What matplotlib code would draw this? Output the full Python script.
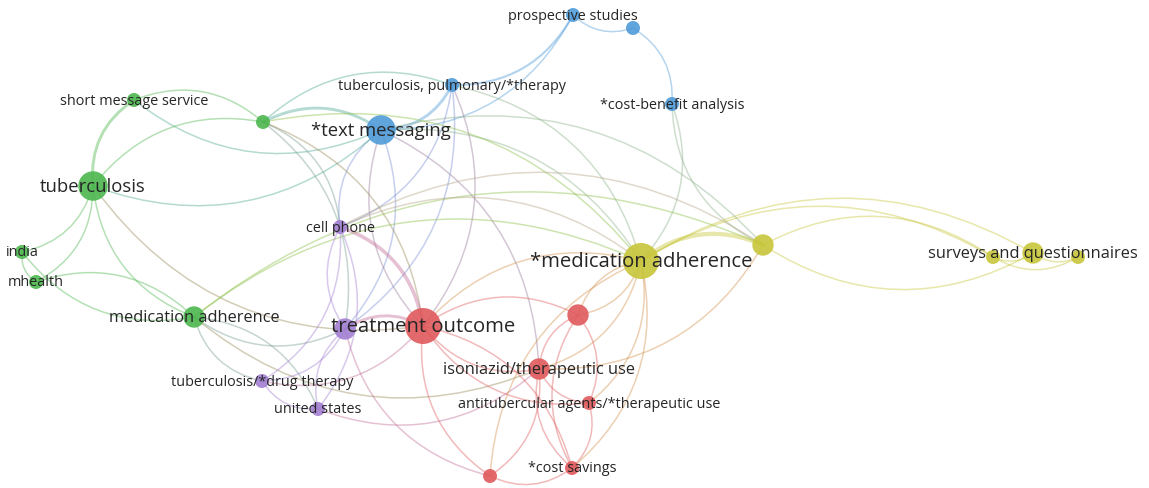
import numpy as np
import matplotlib
matplotlib.use("Agg")
import matplotlib.pyplot as plt
from matplotlib.path import Path
from matplotlib.patches import PathPatch, Circle
from matplotlib.colors import to_rgb

plt.rcParams['font.family'] = ['Open Sans', 'DejaVu Sans']

# terms of the co-occurrence map (VOSviewer-like layout coordinates)
ids = ["B1", "B2", "B3", "B4", "B5",
       "G1", "G2", "G3", "G4", "G5", "G6",
       "P1", "P2", "P3", "P4",
       "R1", "R2", "R3", "R4", "R5", "R6",
       "Y1", "Y2", "Y3", "Y4", "Y5"]
labels = ["prospective studies", "", "tuberculosis, pulmonary/*therapy", "*cost-benefit analysis", "*text messaging",
          "short message service", "", "tuberculosis", "india", "mhealth", "medication adherence",
          "cell phone", "", "tuberculosis/*drug therapy", "united states",
          "treatment outcome", "", "isoniazid/therapeutic use", "antitubercular agents/*therapeutic use",
          "*cost savings", "",
          "*medication adherence", "", "surveys and questionnaires", "", ""]
cluster = ["blue"] * 5 + ["green"] * 6 + ["purple"] * 4 + ["red"] * 6 + ["yellow"] * 5
map_x = [-0.02, 0.58, -1.23, 0.97, -1.94,
         -4.41, -3.12, -4.82, -5.53, -5.39, -3.81,
         -2.35, -2.30, -3.13, -2.57,
         -1.52, 0.03, -0.36, 0.14, -0.03, -0.85,
         0.66, 1.88, 4.58, 4.18, 5.03]
map_y = [2.29, 2.16, 1.59, 1.40, 1.14,
         1.44, 1.22, 0.58, -0.08, -0.38, -0.73,
         0.17, -0.85, -1.37, -1.65,
         -0.82, -0.71, -1.25, -1.59, -2.24, -2.32,
         -0.17, -0.01, -0.09, -0.13, -0.13]
occurrences = [2, 2, 2, 2, 7,
               2, 2, 7, 2, 2, 4,
               2, 4, 2, 2,
               10, 4, 4, 2, 2, 2,
               10, 4, 4, 2, 2]

# co-occurrence links (source, target, link strength)
links = [
    ("B1", "B2", 1), ("B4", "B2", 1), ("B3", "B1", 2), ("B5", "B1", 1), ("B5", "B3", 3),
    ("Y1", "B4", 1), ("B4", "Y2", 1), ("Y2", "B5", 1), ("Y1", "B5", 1), ("Y1", "B3", 1),
    ("B5", "P1", 1), ("P2", "B5", 1), ("B5", "R1", 1), ("R3", "B5", 1),
    ("P1", "B3", 1), ("P2", "B3", 1), ("R1", "B3", 1),
    ("G1", "G3", 3), ("G2", "G1", 1), ("G1", "B5", 1), ("B5", "G2", 3), ("B3", "G2", 1),
    ("G2", "G3", 1), ("G3", "B5", 1), ("G4", "G3", 1), ("G5", "G3", 1), ("G4", "G6", 1),
    ("G6", "G5", 1), ("G4", "G5", 1), ("G3", "G6", 1), ("G3", "R1", 1),
    ("P1", "G2", 1), ("P2", "G2", 1), ("R1", "G2", 1), ("Y1", "G2", 1),
    ("G6", "P2", 1), ("G6", "P3", 1), ("P4", "G6", 1), ("G6", "R3", 1),
    ("Y1", "G6", 1), ("Y2", "G6", 1),
    ("P1", "P2", 1), ("P3", "P1", 1), ("P4", "P1", 1), ("R1", "P1", 4), ("R1", "P2", 3),
    ("P3", "P2", 1), ("P2", "P4", 1), ("P3", "P4", 1), ("P4", "R3", 1), ("P3", "R1", 1),
    ("P2", "R6", 1), ("Y1", "P1", 1), ("Y2", "P1", 1),
    ("R2", "R1", 1), ("R1", "R3", 1), ("R1", "R4", 1), ("R5", "R1", 1), ("R1", "R6", 1),
    ("Y1", "R1", 1), ("R2", "R3", 1), ("R4", "R2", 1), ("R2", "R5", 1),
    ("R2", "Y1", 1), ("Y1", "R2", 1), ("R3", "R4", 1), ("R3", "R5", 1), ("R6", "R3", 1),
    ("R3", "Y1", 1), ("R5", "R4", 1), ("R4", "Y1", 1), ("R6", "R5", 1), ("Y1", "R6", 1),
    ("R5", "Y1", 1), ("R3", "Y2", 1),
    ("Y2", "Y1", 5), ("Y3", "Y1", 1), ("Y4", "Y1", 1), ("Y4", "Y2", 1), ("Y2", "Y3", 1),
    ("Y4", "Y5", 1), ("Y3", "Y5", 1), ("Y4", "Y3", 1),
]

colors = {"red": "#e05a5c", "green": "#4cb74e", "blue": "#4f9bd9",
          "yellow": "#c8c63a", "purple": "#a27fd2"}

idx = {k: i for i, k in enumerate(ids)}
x = np.array(map_x)
y = np.array(map_y)
w = np.array(occurrences, dtype=float)

fig = plt.figure(figsize=(11.49, 4.89), dpi=100)
ax = fig.add_axes([0, 0, 1, 1])
ax.set_xlim(-5.75, 5.74)
ax.set_ylim(-2.44, 2.45)
ax.axis("off")

# curved links (quadratic curves, clockwise bend)
for a, b, s in links:
    i, j = idx[a], idx[b]
    p0 = np.array([x[i], y[i]])
    p2 = np.array([x[j], y[j]])
    d = p2 - p0
    ctrl = (p0 + p2) / 2 + 0.3 * np.array([d[1], -d[0]])
    c = (np.array(to_rgb(colors[cluster[i]])) + np.array(to_rgb(colors[cluster[j]]))) / 2
    path = Path([p0, ctrl, p2], [Path.MOVETO, Path.CURVE3, Path.CURVE3])
    ax.add_patch(PathPatch(path, fill=False, edgecolor=c, alpha=0.42,
                           lw=1.1 + 0.5 * (s - 1), capstyle="round", zorder=1))

# nodes
radius = (-1.9 + 6.29 * np.sqrt(w)) / 100.0
for i in range(len(ids)):
    ax.add_patch(Circle((x[i], y[i]), radius[i], color=colors[cluster[i]],
                        alpha=0.9, lw=0, zorder=2))

# labels
for i in range(len(ids)):
    if labels[i]:
        ax.text(x[i], y[i], labels[i], ha="center", va="center",
                fontsize=1.12 * (6.1 + 2.2 * np.sqrt(w[i])), color="#262626", zorder=3)

plt.savefig("out.png", dpi=100)
